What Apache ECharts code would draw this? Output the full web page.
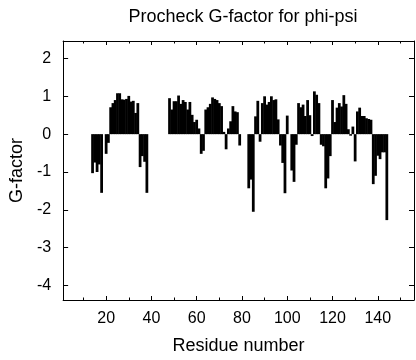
<!DOCTYPE html>
<html>
<head>
<meta charset="utf-8">
<script src="https://cdn.jsdelivr.net/npm/echarts@6/dist/echarts.min.js"></script>
<style>
html,body{margin:0;padding:0;background:#fff;}
#chart{width:416px;height:360px;}
</style>
</head>
<body>
<div id="chart"></div>
<script>
const titleText = 'Procheck G-factor for phi-psi';
const xAxisName = 'Residue number';
const yAxisName = 'G-factor';

const residues = [
  14,15,16,17,18,20,21,22,23,24,25,26,27,28,29,30,31,32,33,34,35,36,37,38,
  48,49,50,51,52,53,54,55,56,57,58,59,60,61,62,63,64,65,66,67,68,69,70,71,72,73,74,75,76,77,78,79,
  83,84,85,86,87,88,89,90,91,92,93,94,95,96,97,98,99,100,
  102,103,104,105,106,107,108,109,110,111,112,113,114,115,116,117,118,119,120,
  121,122,123,124,125,126,127,128,129,130,131,132,133,134,135,136,137,138,139,140,141,142,143,144
];
const gFactor = [
  -1.03,-0.75,-1.0,-0.8,-1.55,-0.52,-0.23,0.71,0.82,0.9,1.08,1.08,0.92,0.91,0.93,1.01,0.86,0.88,0.56,0.82,-0.87,-0.58,-0.73,-1.55,
  0.95,0.65,0.87,0.87,1.02,0.8,0.9,0.85,0.65,0.85,0.51,0.32,0.38,0.15,-0.52,-0.44,0.65,0.71,0.8,0.97,0.93,0.9,0.82,0.74,0.06,-0.4,0.15,0.34,0.74,0.6,0.58,-0.3,
  -1.43,-1.2,-2.05,0.47,0.88,-0.2,0.82,1.0,0.78,0.85,1.0,0.9,0.92,0.39,-0.3,-0.76,-1.56,0.49,
  -0.96,-1.26,-0.28,0.82,0.71,0.78,0.48,0.9,0.5,-0.05,1.13,1.04,0.82,-0.28,-0.32,-1.43,-1.17,-0.58,0.9,
  0.32,0.7,0.82,0.73,1.03,0.8,0.13,-0.04,0.2,-0.72,0.6,0.7,0.48,0.48,0.42,0.4,0.38,-1.32,-1.1,-0.57,-0.66,-0.48,-0.48,-2.27
];

const xMin = 1, xMax = 156;
const yMin = -4.38, yMax = 2.46;

const font = 'Liberation Sans, Arial, Helvetica, sans-serif';
const lineStyle = {color:'#000', width:1};

const chart = echarts.init(document.getElementById('chart'), null, {renderer:'canvas'});
const seriesData = residues.map((r,i)=>[r, gFactor[i]]);

const baseX = {
  type:'value', min:xMin, max:xMax, splitNumber:8,
  axisLine:{show:true, onZero:false, lineStyle},
  axisTick:{show:true, inside:true, length:4, lineStyle},
  minorTick:{show:true, splitNumber:2, length:2.5, lineStyle},
  splitLine:{show:false}, minorSplitLine:{show:false}
};
const baseY = {
  type:'value', min:yMin, max:yMax, splitNumber:7,
  axisLine:{show:true, onZero:false, lineStyle},
  axisTick:{show:true, inside:true, length:5, lineStyle},
  splitLine:{show:false}
};

function renderBar(params, api){
  const r = api.value(0), v = api.value(1);
  const p0 = api.coord([r - 0.5, 0]);
  const p1 = api.coord([r + 0.5, v]);
  const x = Math.min(p0[0], p1[0]) - 0.25;
  const w = Math.abs(p1[0] - p0[0]) + 0.5;
  const y = Math.min(p0[1], p1[1]);
  const h = Math.max(Math.abs(p1[1] - p0[1]), 1);
  return {
    type:'rect',
    shape:{x, y, width:w, height:h},
    style:{fill:'#000'}
  };
}

chart.setOption({
  backgroundColor:'#fff',
  animation:false,
  title:{
    text:titleText, left:238, top:3, textAlign:'center',
    textStyle:{fontFamily:font, fontSize:18, fontWeight:'normal', color:'#000'}
  },
  grid:{left:62, right:2, top:41, bottom:55, containLabel:false},
  xAxis:[
    Object.assign({}, baseX, {
      position:'bottom',
      name:xAxisName, nameLocation:'middle', nameGap:37,
      nameTextStyle:{fontFamily:font, fontSize:18, color:'#000'},
      axisLabel:{show:true, fontFamily:font, fontSize:16, color:'#000', margin:11, showMinLabel:false, showMaxLabel:false}
    }),
    Object.assign({}, baseX, {position:'top', axisLabel:{show:false}})
  ],
  yAxis:[
    Object.assign({}, baseY, {
      position:'left',
      name:yAxisName, nameLocation:'middle', nameGap:37,
      nameTextStyle:{fontFamily:font, fontSize:18, color:'#000'},
      axisLabel:{show:true, fontFamily:font, fontSize:16, color:'#000', margin:12, showMinLabel:false, showMaxLabel:false}
    }),
    Object.assign({}, baseY, {position:'right', axisLabel:{show:false}})
  ],
  series:[{
    type:'custom', xAxisIndex:0, yAxisIndex:0,
    data:seriesData,
    renderItem:renderBar,
    encode:{x:0, y:1},
    silent:true
  }]
});
</script>
</body>
</html>
